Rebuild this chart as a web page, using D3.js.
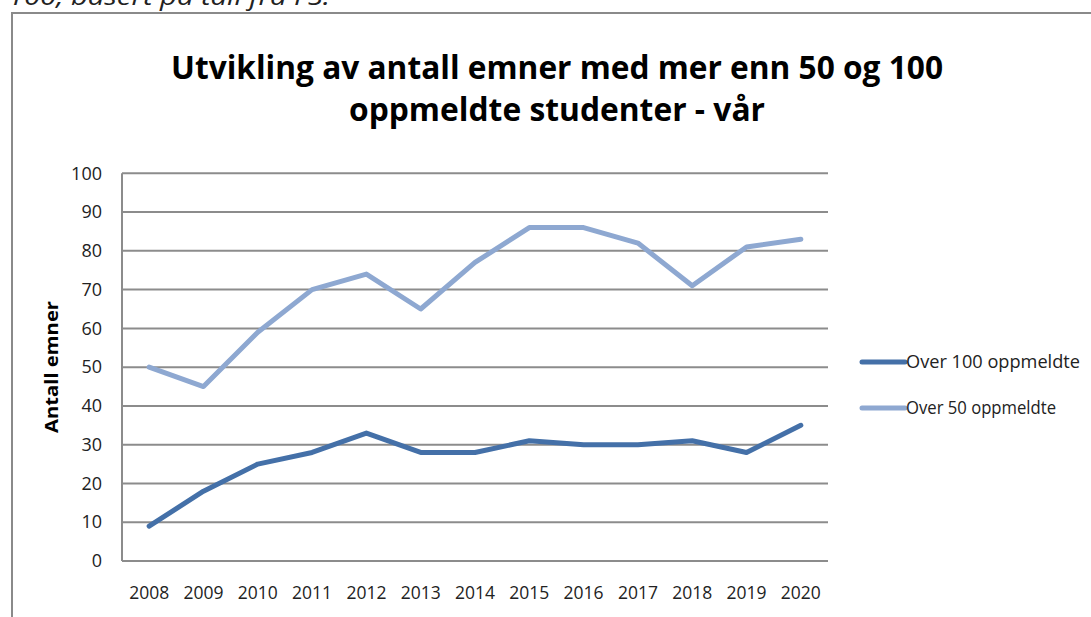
<!DOCTYPE html>
<html>
<head>
<meta charset="utf-8">
<script src="https://cdn.jsdelivr.net/npm/d3@7"></script>
<style>
  html, body { margin: 0; padding: 0; background: #fff; }
  svg { display: block; }
  text { font-family: "Open Sans", "Noto Sans", sans-serif; }
</style>
</head>
<body>
<svg id="chart" width="1091" height="617"></svg>
<script>
const years = ["2008","2009","2010","2011","2012","2013","2014","2015","2016","2017","2018","2019","2020"];
const over100 = [9, 18, 25, 28, 33, 28, 28, 31, 30, 30, 31, 28, 35];
const over50  = [50, 45, 59, 70, 74, 65, 77, 86, 86, 82, 71, 81, 83];
const yTicks = [0, 10, 20, 30, 40, 50, 60, 70, 80, 90, 100];
const seriesNames = ["Over 100 oppmeldte", "Over 50 oppmeldte"];
const titleLines = ["Utvikling av antall emner med mer enn 50 og 100", "oppmeldte studenter - vår"];
const yTitle = "Antall emner";
const captionText = "100, basert på tall fra FS.";

(function () {
const svg = d3.select("#chart");
const gridColor = "#8c8c8c";
const colors = ["#4470a8", "#8ea8d1"];

// caption cut off at top
svg.append("text").attr("x", 8).attr("y", 5)
  .attr("font-size", 24).attr("font-style", "italic").attr("fill", "#222")
  .attr("textLength", 322).attr("lengthAdjust", "spacingAndGlyphs")
  .text(captionText);

// frame
svg.append("path").attr("d", "M12,617 L12,13 L1091,13")
  .attr("fill", "none").attr("stroke", "#8a8a8a").attr("stroke-width", 2);

// title
const titleWidths = [772, 416];
const titleY = [79, 121];
titleLines.forEach((t, i) => {
  svg.append("text").attr("x", 557).attr("y", titleY[i])
    .attr("text-anchor", "middle").attr("font-size", 32).attr("font-weight", "bold")
    .attr("fill", "#000")
    .attr("textLength", titleWidths[i]).attr("lengthAdjust", "spacingAndGlyphs")
    .text(t);
});

const pLeft = 122, pRight = 828, pTop = 173.3, pBottom = 561;
const x = d3.scaleBand().domain(years).range([pLeft, pRight]);
const y = d3.scaleLinear().domain([0, 100]).range([pBottom, pTop]);

// gridlines
svg.append("g").selectAll("line").data(yTicks).join("line")
  .attr("x1", pLeft).attr("x2", pRight)
  .attr("y1", d => y(d)).attr("y2", d => y(d))
  .attr("stroke", gridColor).attr("stroke-width", 2);

// left axis line
svg.append("line").attr("x1", pLeft).attr("x2", pLeft).attr("y1", pTop).attr("y2", pBottom)
  .attr("stroke", gridColor).attr("stroke-width", 2);

// y axis labels
const yAxis = d3.axisLeft(y).tickValues(yTicks).tickSize(0).tickPadding(20);
const gy = svg.append("g").attr("transform", `translate(${pLeft},0)`).call(yAxis);
gy.select(".domain").remove();
gy.selectAll("text").attr("font-size", 18).attr("fill", "#222")
  .attr("font-family", "'Open Sans', sans-serif");

// x axis labels
const xAxis = d3.axisBottom(x).tickSize(0).tickPadding(25);
const gx = svg.append("g").attr("transform", `translate(0,${pBottom})`).call(xAxis);
gx.select(".domain").remove();
gx.selectAll("text").attr("font-size", 18).attr("fill", "#222")
  .attr("font-family", "'Open Sans', sans-serif")
  .attr("textLength", 40).attr("lengthAdjust", "spacingAndGlyphs");

// y title
svg.append("text").attr("transform", "translate(58,367) rotate(-90)")
  .attr("text-anchor", "middle").attr("font-size", 18).attr("font-weight", "bold")
  .attr("fill", "#000")
  .attr("textLength", 132).attr("lengthAdjust", "spacingAndGlyphs")
  .text(yTitle);

// lines
const line = d3.line().x((d, i) => x(years[i]) + x.bandwidth() / 2).y(d => y(d));
[over100, over50].forEach((s, i) => {
  svg.append("path").datum(s).attr("d", line)
    .attr("fill", "none").attr("stroke", colors[i]).attr("stroke-width", 5)
    .attr("stroke-linejoin", "round").attr("stroke-linecap", "round");
});

// legend
const legY = [362, 408];
const legTextW = [174, 150];
seriesNames.forEach((n, i) => {
  svg.append("line").attr("x1", 862).attr("x2", 905).attr("y1", legY[i]).attr("y2", legY[i])
    .attr("stroke", colors[i]).attr("stroke-width", 5).attr("stroke-linecap", "round");
  svg.append("text").attr("x", 906).attr("y", legY[i]).attr("dy", "0.35em")
    .attr("font-size", 18).attr("fill", "#222")
    .attr("textLength", legTextW[i]).attr("lengthAdjust", "spacingAndGlyphs")
    .text(n);
});
})();
</script>
</body>
</html>
